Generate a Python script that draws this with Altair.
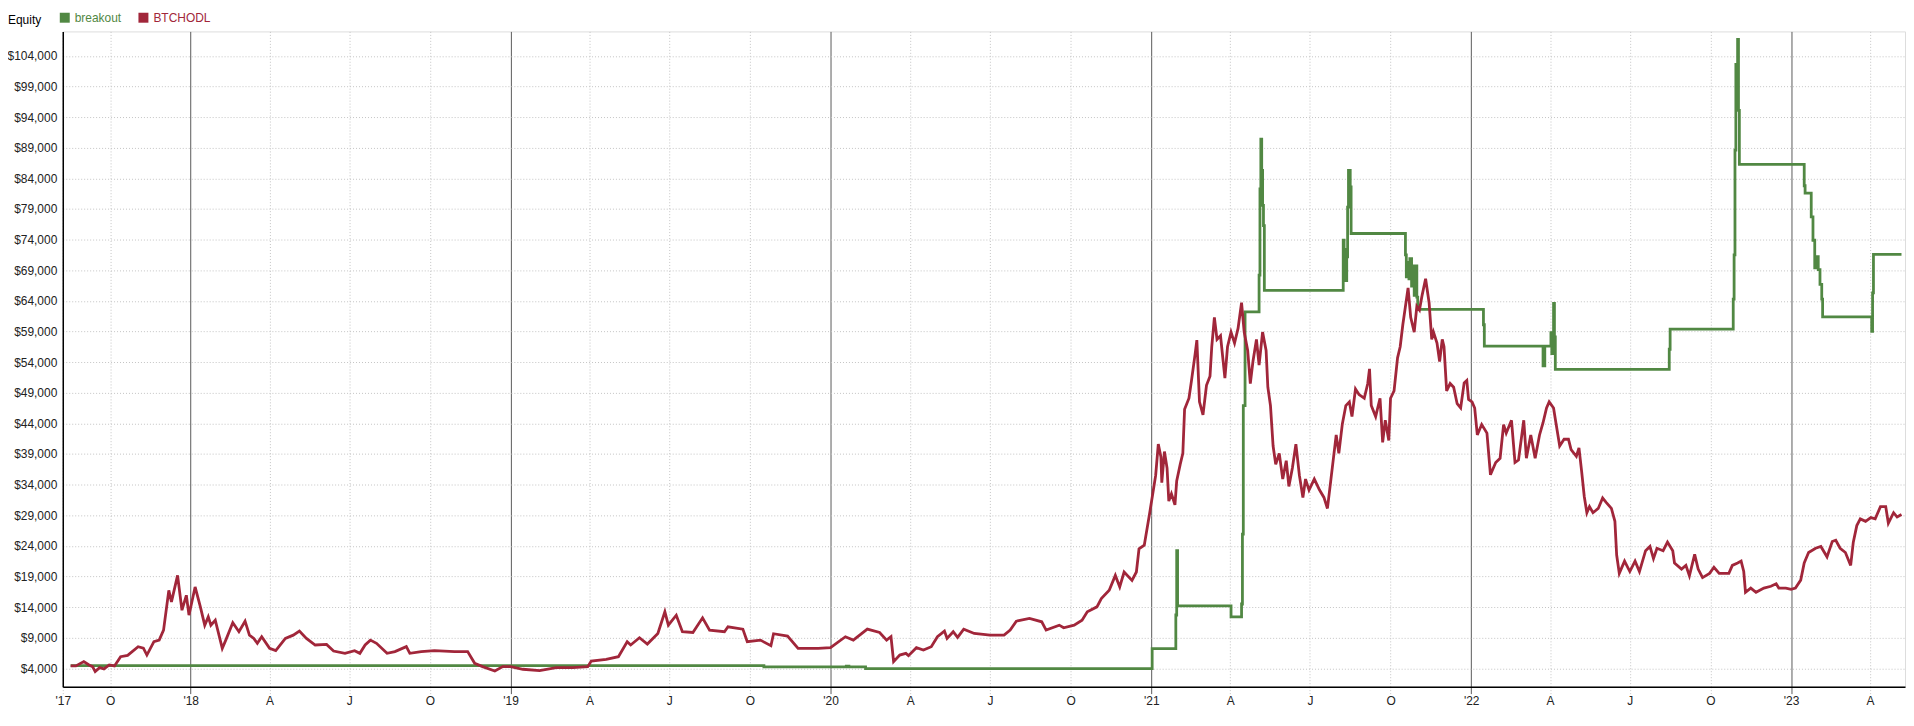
import altair as alt
import pandas as pd

# ---------------- data ----------------
red_dates = [
    "2017-08-17", "2017-08-23", "2017-09-01", "2017-09-07", "2017-09-11", "2017-09-14", "2017-09-19",
    "2017-09-24", "2017-09-30", "2017-10-06", "2017-10-13", "2017-10-21", "2017-11-02", "2017-11-08",
    "2017-11-12", "2017-11-20", "2017-11-26", "2017-12-01", "2017-12-07", "2017-12-10", "2017-12-17",
    "2017-12-22", "2017-12-27", "2017-12-30", "2018-01-06", "2018-01-12", "2018-01-17", "2018-01-21",
    "2018-01-24", "2018-01-29", "2018-02-06", "2018-02-10", "2018-02-18", "2018-02-25", "2018-03-04",
    "2018-03-09", "2018-03-14", "2018-03-18", "2018-03-23", "2018-04-01", "2018-04-08", "2018-04-19",
    "2018-04-28", "2018-05-05", "2018-05-13", "2018-05-23", "2018-06-05", "2018-06-13", "2018-06-26",
    "2018-07-07", "2018-07-13", "2018-07-19", "2018-07-25", "2018-08-01", "2018-08-13", "2018-08-22",
    "2018-09-04", "2018-09-08", "2018-09-21", "2018-10-06", "2018-10-29", "2018-11-13", "2018-11-21",
    "2018-11-30", "2018-12-14", "2018-12-23", "2019-01-01", "2019-01-15", "2019-02-03", "2019-02-22",
    "2019-03-13", "2019-03-30", "2019-04-03", "2019-04-20", "2019-05-04", "2019-05-14", "2019-05-18",
    "2019-05-28", "2019-06-06", "2019-06-18", "2019-06-26", "2019-06-30", "2019-07-09", "2019-07-16",
    "2019-07-28", "2019-08-08", "2019-08-16", "2019-09-02", "2019-09-06", "2019-09-23", "2019-09-28",
    "2019-10-13", "2019-10-25", "2019-10-28", "2019-11-13", "2019-11-25", "2019-12-18", "2020-01-01",
    "2020-01-18", "2020-01-27", "2020-02-12", "2020-02-26", "2020-03-05", "2020-03-10", "2020-03-13",
    "2020-03-20", "2020-03-27", "2020-03-30", "2020-04-08", "2020-04-16", "2020-04-25", "2020-05-02",
    "2020-05-10", "2020-05-13", "2020-05-20", "2020-05-25", "2020-06-01", "2020-06-13", "2020-07-01",
    "2020-07-17", "2020-07-24", "2020-07-31", "2020-08-15", "2020-08-29", "2020-09-03", "2020-09-18",
    "2020-09-23", "2020-10-05", "2020-10-14", "2020-10-20", "2020-10-31", "2020-11-05", "2020-11-14",
    "2020-11-21", "2020-11-26", "2020-12-01", "2020-12-10", "2020-12-15", "2020-12-18", "2020-12-24",
    "2020-12-30", "2021-01-03", "2021-01-06", "2021-01-09", "2021-01-12", "2021-01-13", "2021-01-16",
    "2021-01-19", "2021-01-21", "2021-01-24", "2021-01-28", "2021-01-30", "2021-02-03", "2021-02-06",
    "2021-02-08", "2021-02-13", "2021-02-16", "2021-02-20", "2021-02-22", "2021-02-25", "2021-03-01",
    "2021-03-05", "2021-03-09", "2021-03-11", "2021-03-14", "2021-03-17", "2021-03-21", "2021-03-24",
    "2021-03-26", "2021-03-29", "2021-04-02", "2021-04-06", "2021-04-10", "2021-04-14", "2021-04-17",
    "2021-04-21", "2021-04-24", "2021-04-27", "2021-05-01", "2021-05-04", "2021-05-08", "2021-05-12",
    "2021-05-14", "2021-05-17", "2021-05-20", "2021-05-23", "2021-05-27", "2021-05-31", "2021-06-04",
    "2021-06-07", "2021-06-11", "2021-06-15", "2021-06-19", "2021-06-23", "2021-06-26", "2021-06-30",
    "2021-07-06", "2021-07-12", "2021-07-17", "2021-07-21", "2021-07-25", "2021-07-29", "2021-07-31",
    "2021-08-03", "2021-08-07", "2021-08-11", "2021-08-15", "2021-08-18", "2021-08-22", "2021-08-26",
    "2021-09-01", "2021-09-05", "2021-09-07", "2021-09-09", "2021-09-14", "2021-09-19", "2021-09-22",
    "2021-09-25", "2021-09-29", "2021-10-01", "2021-10-05", "2021-10-09", "2021-10-12", "2021-10-15",
    "2021-10-18", "2021-10-21", "2021-10-24", "2021-10-28", "2021-10-31", "2021-11-03", "2021-11-06",
    "2021-11-10", "2021-11-14", "2021-11-17", "2021-11-19", "2021-11-23", "2021-11-26", "2021-11-29",
    "2021-12-01", "2021-12-04", "2021-12-08", "2021-12-12", "2021-12-16", "2021-12-20", "2021-12-24",
    "2021-12-27", "2021-12-29", "2022-01-02", "2022-01-05", "2022-01-08", "2022-01-13", "2022-01-19",
    "2022-01-23", "2022-01-29", "2022-02-03", "2022-02-07", "2022-02-10", "2022-02-16", "2022-02-20",
    "2022-02-24", "2022-03-02", "2022-03-05", "2022-03-10", "2022-03-15", "2022-03-20", "2022-03-24",
    "2022-03-28", "2022-03-31", "2022-04-05", "2022-04-08", "2022-04-12", "2022-04-17", "2022-04-22",
    "2022-04-25", "2022-05-01", "2022-05-04", "2022-05-07", "2022-05-10", "2022-05-13", "2022-05-16",
    "2022-05-20", "2022-05-26", "2022-05-31", "2022-06-04", "2022-06-10", "2022-06-14", "2022-06-16",
    "2022-06-19", "2022-06-25", "2022-07-01", "2022-07-07", "2022-07-12", "2022-07-19", "2022-07-24",
    "2022-07-28", "2022-08-01", "2022-08-08", "2022-08-13", "2022-08-19", "2022-08-21", "2022-08-29",
    "2022-09-03", "2022-09-07", "2022-09-13", "2022-09-17", "2022-09-22", "2022-09-30", "2022-10-05",
    "2022-10-11", "2022-10-22", "2022-10-26", "2022-11-01", "2022-11-05", "2022-11-08", "2022-11-10",
    "2022-11-16", "2022-11-22", "2022-12-01", "2022-12-09", "2022-12-15", "2022-12-18", "2022-12-26",
    "2023-01-01", "2023-01-06", "2023-01-12", "2023-01-16", "2023-01-21", "2023-01-29", "2023-02-04",
    "2023-02-11", "2023-02-17", "2023-02-21", "2023-02-26", "2023-03-04", "2023-03-10", "2023-03-13",
    "2023-03-17", "2023-03-21", "2023-03-27", "2023-04-02", "2023-04-07", "2023-04-13", "2023-04-19",
    "2023-04-22", "2023-04-28", "2023-05-02", "2023-05-07",
]
red_values = [
    4380, 4380, 5090, 4540, 4270, 3460, 4110,
    3890, 4540, 4380, 5900, 6100, 7530, 7300,
    6160, 8340, 8600, 10230, 16730, 14850, 19170,
    13480, 15920, 12670, 17280, 14030, 11040, 12400,
    11040, 11850, 7250, 8600, 11430, 9970, 11690,
    9410, 8880, 8070, 9150, 7250, 6880, 8880,
    9410, 10070, 8880, 7800, 7900, 6810, 6440,
    6880, 6440, 7800, 8600, 8070, 6440, 6720,
    7530, 6440, 6720, 6880, 6720, 6720, 4810,
    4270, 3560, 4270, 4270, 3840, 3620, 4110,
    4110, 4270, 5190, 5460, 5900, 8340, 7800,
    8990, 7950, 9690, 13220, 11040, 12670, 9970,
    9850, 12240, 10230, 9970, 10780, 10390, 8340,
    8600, 7690, 9640, 9250, 7250, 7250, 7360,
    9150, 8600, 10390, 9850, 8600, 9150, 5090,
    6160, 6440, 6060, 7360, 6980, 7530, 9150,
    10070, 8880, 9970, 9040, 10390, 9690, 9410,
    9410, 10230, 11690, 12130, 11590, 10230, 11040,
    10620, 11040, 11850, 13220, 14030, 15380, 16730,
    19170, 17280, 19720, 18360, 19720, 23500, 24100,
    29200, 32800, 35500, 40600, 38500, 34300, 39400,
    36700, 31300, 32500, 30700, 34600, 37300, 39100,
    46300, 48100, 51100, 55300, 57600, 47500, 45400,
    50200, 51700, 56500, 61300, 57700, 58300, 54100,
    51400, 56500, 58900, 57100, 59500, 63700, 58900,
    55900, 50500, 54100, 57700, 53500, 58900, 55900,
    49900, 46900, 40300, 37300, 39100, 34900, 37900,
    33700, 36700, 40600, 35500, 31900, 34900, 33100,
    34900, 33100, 31900, 30100, 34900, 39700, 42100,
    39100, 43900, 46900, 47500, 45100, 49600, 48700,
    48100, 50500, 52900, 46900, 45100, 48100, 40900,
    44500, 41200, 48100, 49300, 54700, 56500, 60100,
    63100, 66100, 61300, 58900, 63100, 62500, 64900,
    67600, 63700, 57700, 58900, 57100, 54100, 57700,
    56500, 49300, 50500, 49900, 47200, 46500, 50600,
    51000, 47900, 47500, 46500, 42100, 43800, 42400,
    35600, 37600, 38300, 43800, 42400, 44500, 37600,
    38000, 44500, 38300, 42100, 38300, 42100, 44100,
    46500, 47500, 46500, 43800, 40300, 41400, 41400,
    39700, 38600, 40000, 36200, 32100, 29400, 30400,
    29400, 30100, 31800, 31100, 30100, 28000, 22500,
    19500, 21500, 19800, 21500, 19800, 23200, 23900,
    21900, 23600, 23200, 24600, 23200, 21200, 20200,
    20800, 19100, 22600, 20200, 18800, 19500, 20500,
    19500, 19500, 20800, 21200, 21500, 19800, 16400,
    17100, 16400, 17100, 17400, 17800, 17100, 17100,
    16900, 17100, 18400, 21200, 22900, 23600, 23900,
    22200, 24700, 24900, 23600, 22900, 20800, 24600,
    27300, 28400, 28000, 28600, 28400, 30400, 30400,
    27700, 29400, 28700, 29100,
]

green_dates = [
    "2017-08-17", "2019-10-17", "2020-01-18", "2020-01-19", "2020-01-22", "2020-02-10",
    "2021-01-01", "2021-01-02", "2021-01-28", "2021-01-29", "2021-01-30", "2021-01-31",
    "2021-04-02", "2021-04-13", "2021-04-14", "2021-04-15", "2021-04-16", "2021-04-18",
    "2021-05-03", "2021-05-04", "2021-05-05", "2021-05-06", "2021-05-07", "2021-05-08",
    "2021-05-09", "2021-05-10", "2021-08-07", "2021-08-08", "2021-08-09", "2021-08-10",
    "2021-08-11", "2021-08-12", "2021-08-13", "2021-08-14", "2021-08-16", "2021-08-17",
    "2021-10-17", "2021-10-18", "2021-10-19", "2021-10-21", "2021-10-22", "2021-10-23",
    "2021-10-25", "2021-10-27", "2021-10-28", "2021-10-30", "2021-10-31", "2021-11-01",
    "2022-01-14", "2022-01-15", "2022-01-16", "2022-03-23", "2022-03-24", "2022-03-26",
    "2022-04-02", "2022-04-03", "2022-04-05", "2022-04-06", "2022-04-07", "2022-08-14",
    "2022-08-15", "2022-08-16", "2022-10-26", "2022-10-27", "2022-10-28", "2022-10-29",
    "2022-10-30", "2022-10-31", "2022-11-01", "2022-11-02", "2022-11-03", "2023-01-14",
    "2023-01-16", "2023-01-17", "2023-01-22", "2023-01-24", "2023-01-26", "2023-01-28",
    "2023-01-30", "2023-02-01", "2023-02-03", "2023-02-05", "2023-02-06", "2023-04-02",
    "2023-04-03", "2023-04-04", "2023-04-05", "2023-05-07",
]
green_values = [
    4440, 4220, 4220, 4350, 4220, 3950,
    3950, 7200, 7200, 12700, 23200, 14200,
    12400, 12400, 14500, 25900, 46900, 62200,
    62200, 68200, 82300, 90400, 85300, 79600,
    76300, 65700, 65700, 73900, 67300, 72400,
    67300, 71200, 79300, 85300, 82600, 75000,
    75000, 71500, 67900, 70300, 67600, 70900,
    66400, 69700, 64900, 69700, 64600, 62600,
    62600, 60100, 56600, 56600, 53400, 56600,
    58800, 55400, 63600, 58100, 52800, 52800,
    56100, 59400, 59400, 64300, 71500, 88600,
    102600, 95100, 106700, 95100, 86300, 86300,
    82800, 81600, 81600, 77700, 73900, 69400,
    71200, 69100, 66700, 64300, 61400, 61400,
    59000, 65300, 71600, 71600,
]

series_names = ["breakout", "BTCHODL"]
series_colors = ["#518843", "#a1263a"]

y_ticks = [4000, 9000, 14000, 19000, 24000, 29000, 34000, 39000, 44000, 49000, 54000,
           59000, 64000, 69000, 74000, 79000, 84000, 89000, 94000, 99000, 104000]
x_ticks = ["2017-08-08", "2017-10-01", "2018-01-01", "2018-04-01", "2018-07-01", "2018-10-01",
           "2019-01-01", "2019-04-01", "2019-07-01", "2019-10-01", "2020-01-01", "2020-04-01",
           "2020-07-01", "2020-10-01", "2021-01-01", "2021-04-01", "2021-07-01", "2021-10-01",
           "2022-01-01", "2022-04-01", "2022-07-01", "2022-10-01", "2023-01-01", "2023-04-01"]
x_domain = ["2017-08-08", "2023-05-11"]
y_domain = [1000, 108000]

# ---------------- build ----------------
def dt(s):
    y, m, d = (int(p) for p in s.split("-"))
    return alt.DateTime(year=y, month=m, date=d, utc=True)

red_df = pd.DataFrame({"date": red_dates, "value": red_values, "series": "BTCHODL"})
green_df = pd.DataFrame({"date": green_dates, "value": green_values, "series": "breakout"})

FONT = "Liberation Sans"
year_test = "utcmonth(datum.value) == 0 && utcdate(datum.value) == 1"

x_axis = alt.Axis(
    values=[dt(s) for s in x_ticks],
    labelExpr=("utcmonth(datum.value) == 0 ? \"'\" + utcFormat(datum.value, '%y') : "
               "utcmonth(datum.value) == 3 ? 'A' : utcmonth(datum.value) == 6 ? 'J' : "
               "utcmonth(datum.value) == 9 ? 'O' : \"'\" + utcFormat(datum.value, '%y')"),
    title=None,
    grid=True,
    gridColor={"condition": {"test": year_test, "value": "#5a5a5a"}, "value": "#c4c4c4"},
    gridDash={"condition": {"test": year_test, "value": []}, "value": [1, 2]},
    gridWidth=1,
    tickColor={"condition": {"test": year_test, "value": "#5a5a5a"}, "value": "#c4c4c4"},
    tickDash={"condition": {"test": year_test, "value": []}, "value": [1, 2]},
    tickSize=7,
    domainColor="#000000",
    domainWidth=1.5,
    labelFont=FONT,
    labelFontSize=12,
    labelColor="#222222",
    labelPadding=2,
    labelFlush=False,
    labelOverlap=False,
    labelBound=False,
)

y_axis = alt.Axis(
    values=y_ticks,
    format="$,.0f",
    title=None,
    grid=True,
    gridColor="#c4c4c4",
    gridDash=[1, 2],
    ticks=False,
    labelPadding=6,
    domainColor="#000000",
    domainWidth=1.5,
    labelFont=FONT,
    labelFontSize=12,
    labelColor="#222222",
    labelOverlap=False,
)

legend = alt.Legend(
    title="Equity",
    orient="none",
    legendX=-55,
    legendY=-20,
    direction="horizontal",
    titleOrient="left",
    titleFont=FONT,
    titleFontSize=12,
    titleFontWeight="normal",
    titleColor="#000000",
    titlePadding=17,
    titleBaseline="middle",
    labelFont=FONT,
    labelFontSize=12,
    labelColor={"expr": "datum.value === 'breakout' ? '%s' : '%s'" % (series_colors[0], series_colors[1])},
    symbolType="square",
    symbolSize=25,
    symbolStrokeWidth=5,
    labelOffset=4,
    columnPadding=9,
)

color = alt.Color("series:N", scale=alt.Scale(domain=series_names, range=series_colors), legend=legend)
x_enc = alt.X("date:T", scale=alt.Scale(type="utc", domain=[dt(s) for s in x_domain]), axis=x_axis)
y_enc = alt.Y("value:Q", scale=alt.Scale(domain=y_domain, nice=False, zero=False), axis=y_axis)

green_layer = alt.Chart(green_df).mark_line(interpolate="step-after", strokeWidth=2.8, clip=True).encode(
    x=x_enc, y=y_enc, color=color)
red_layer = alt.Chart(red_df).mark_line(strokeWidth=2.8, clip=True).encode(
    x=x_enc, y=y_enc, color=color)

chart = alt.layer(green_layer, red_layer).properties(
    width=1850,
    height=658,
    padding={"left": 55, "top": 22, "right": 1, "bottom": 38},
    autosize="none",
).configure_view(stroke=None).configure(background="#ffffff")

chart.save("out.html", embed_options={"renderer": "svg", "actions": False})
